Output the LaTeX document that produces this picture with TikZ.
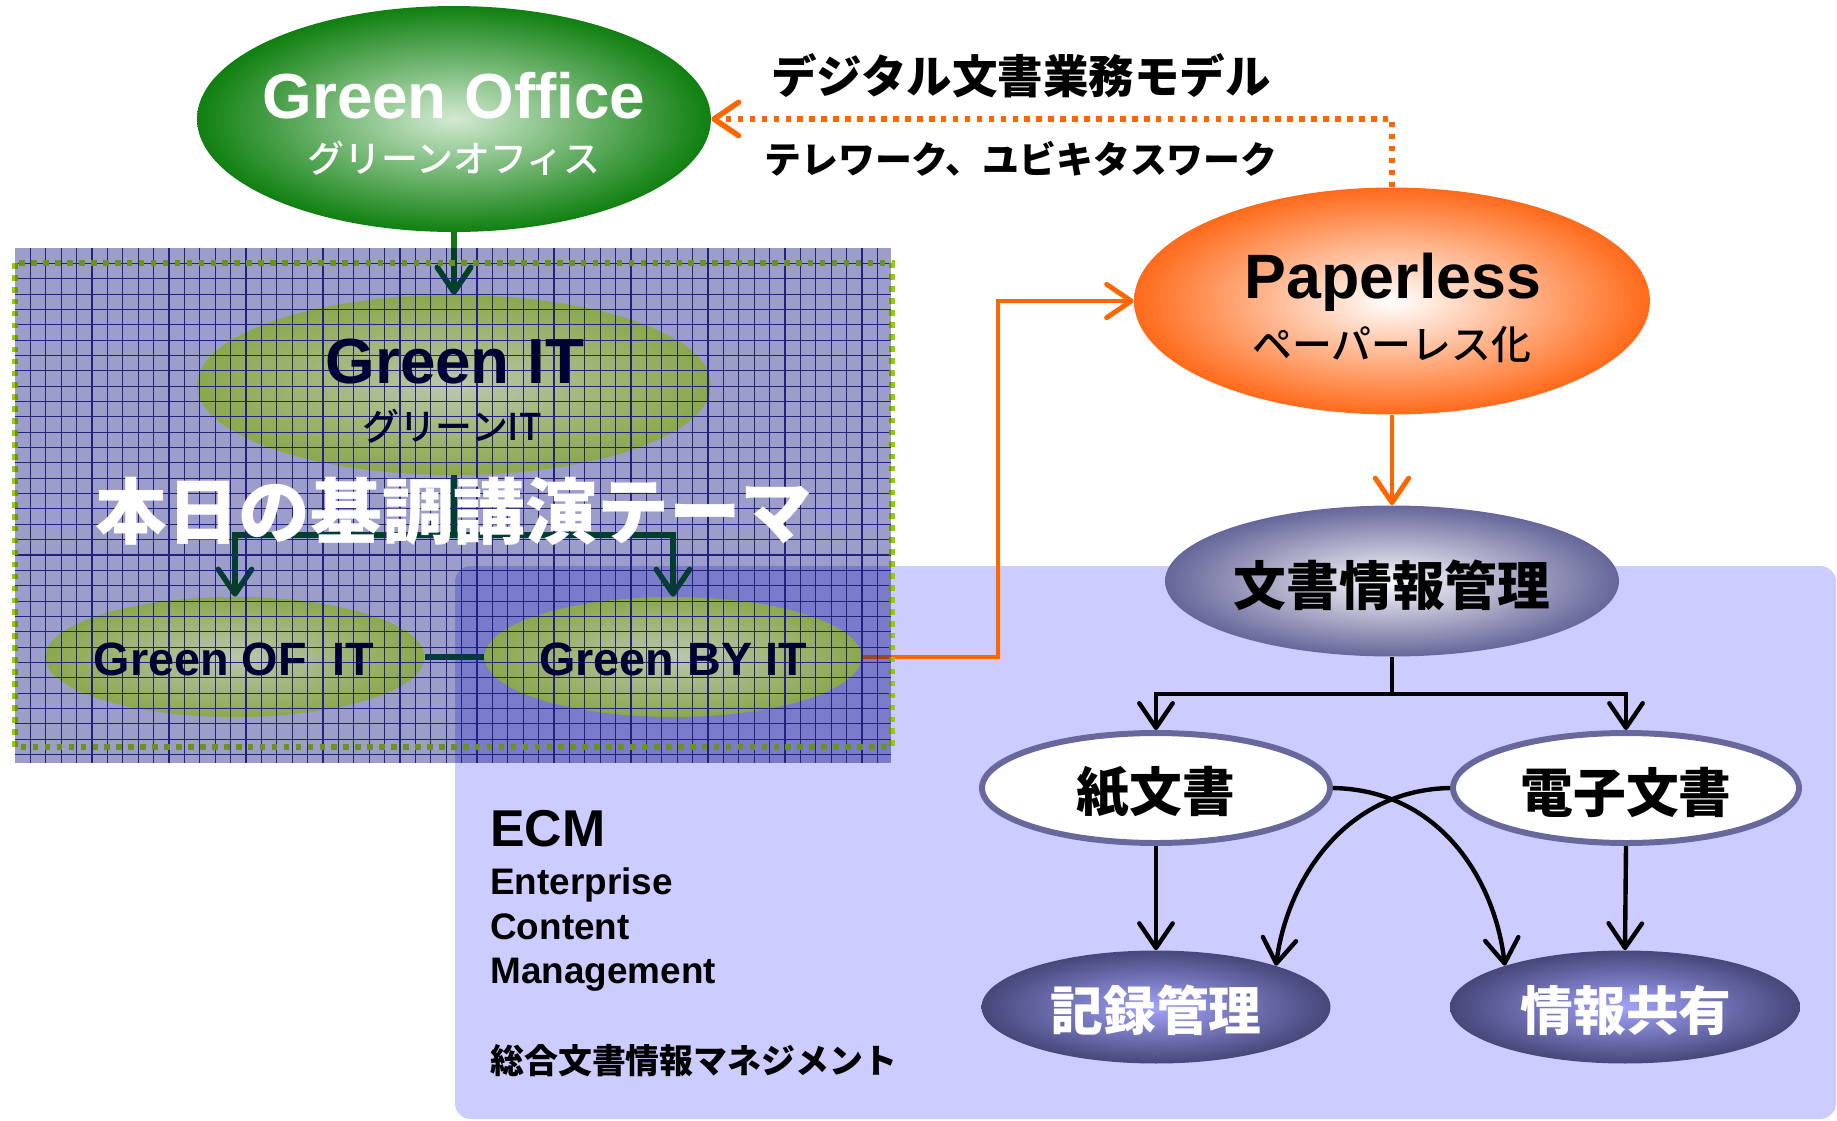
\documentclass[tikz,border=0pt]{standalone}
\usepackage{fontspec}
\setmainfont{Liberation Sans}
\newfontfamily\jp{Noto Sans CJK JP}
\newfontfamily\jpm{Noto Sans CJK JP Medium}
\usetikzlibrary{shapes.geometric,arrows.meta}
\definecolor{goIn}{HTML}{D2EAD2}
\definecolor{goOut}{HTML}{108010}
\definecolor{giIn}{HTML}{BCC6AE}
\definecolor{giOut}{HTML}{8BA84C}
\definecolor{plIn}{HTML}{FFFFFF}
\definecolor{plOut}{HTML}{FF6A1A}
\definecolor{bjIn}{HTML}{FAFAFC}
\definecolor{bjOut}{HTML}{66669A}
\definecolor{kiIn}{HTML}{A2A2FA}
\definecolor{kiOut}{HTML}{47477A}
\definecolor{kamiBorder}{HTML}{68689C}
\definecolor{navyText}{HTML}{000033}
\definecolor{orangeL}{HTML}{FF6600}
\definecolor{orangeDim}{HTML}{A0442A}
\definecolor{darkG}{HTML}{00402A}
\definecolor{midG}{HTML}{117711}
\definecolor{ecmBg}{HTML}{CCCCFF}
\definecolor{gridBg}{HTML}{9D9DC9}
\definecolor{gridOv}{HTML}{7B7BCB}
\definecolor{gridLn}{HTML}{23237E}
\definecolor{dotBright}{HTML}{99CC00}
\definecolor{dotDim}{HTML}{6A9026}
\begin{document}
\begin{tikzpicture}[x=0.02cm,y=-0.02cm,
  ell/.style={ellipse, inner sep=0pt},
  tipA/.style={-{Straight Barb[length=14pt,width=19pt,round]}},
  gconn/.style={line width=3.1pt, darkG, tipA},
  oconn/.style={line width=2.8pt, orangeL, tipA},
  bconn/.style={line width=2.5pt, black, tipA},
  dotline/.style={line width=3.1pt, dash pattern=on 3.2pt off 3.6pt},
  gridl/.style={line width=0.6pt, gridLn},
  lat/.style={anchor=base, inner sep=0pt},
  jpt/.style={anchor=center, inner sep=0pt}]
\useasboundingbox (0,0) rectangle (1837,1120);
\fill[white] (0,0) rectangle (1837,1120);
% ECM panel
\fill[ecmBg, rounded corners=9pt] (455,566) rectangle (1836,1119);
% grid panel
\fill[gridBg] (15,248) rectangle (891,763);
\begin{scope}
  \clip[rounded corners=9pt] (455,566) rectangle (1836,1119);
  \fill[gridOv] (15,248) rectangle (891,763);
\end{scope}

% ellipses
\node[ell, minimum width=10.28cm, minimum height=4.52cm, inner color=goIn, outer color=goOut] (go) at (454,119) {};
\node[ell, minimum width=10.28cm, minimum height=3.6cm, inner color=giIn, outer color=giOut] (git) at (454,385) {};
\node[ell, minimum width=7.58cm, minimum height=2.4cm, inner color=giIn, outer color=giOut] (gof) at (235,657) {};
\node[ell, minimum width=7.54cm, minimum height=2.4cm, inner color=giIn, outer color=giOut] (gby) at (673,657) {};
\node[ell, minimum width=10.32cm, minimum height=4.54cm, inner color=plIn, outer color=plOut] (pl) at (1392,301) {};
\node[ell, minimum width=9.08cm, minimum height=3.02cm, inner color=bjIn, outer color=bjOut] (bj) at (1392,581) {};
\node[ell, minimum width=6.96cm, minimum height=2.2cm, fill=white, draw=kamiBorder, line width=3.4pt] (kami) at (1156,788) {};
\node[ell, minimum width=6.92cm, minimum height=2.2cm, fill=white, draw=kamiBorder, line width=3.4pt] (denshi) at (1626,788) {};
\node[ell, minimum width=6.98cm, minimum height=2.26cm, inner color=kiIn, outer color=kiOut] (kiroku) at (1156,1007) {};
\node[ell, minimum width=7.0cm, minimum height=2.26cm, inner color=kiIn, outer color=kiOut] (joho) at (1625,1007) {};

% coordinates
\coordinate (gsplit) at (454,535);
\coordinate (obend) at (998,301);
\coordinate (bsplit) at (1392,694);

% green connectors
\draw[gconn, midG] (go.south) -- (git.north);
\begin{scope}
  \clip (15,248) rectangle (891,763);
  \draw[gconn] (go.south) -- (git.north);
\end{scope}
\draw[gconn] (git.south) -- (gsplit) -| (gof.north);
\draw[gconn] (gsplit) -| (gby.north);
\draw[line width=3.4pt, darkG] (gof.east) -- (gby.west);

% orange connectors
\draw[oconn] (gby.east) -| (obend) -- (pl.west);
\begin{scope}
  \clip (15,248) rectangle (891,763);
  \draw[line width=2.8pt, orangeDim] (gby.east) -| (obend);
\end{scope}
\draw[oconn, dotline] (pl.north) -- (pl.north |- go.east) -- (go.east);
\draw[oconn] (pl.south) -- (bj.north);

% black connectors
\draw[bconn] (bj.south) -- (bsplit) -| (kami.north);
\draw[bconn] (bsplit) -| (denshi.north);
\draw[bconn] (kami.south) -- (kiroku.north);
\draw[bconn] (denshi.south) -- (joho.north);
\draw[bconn] (kami.east) .. controls (1440,790) and (1495,880) .. (joho.161);
\draw[bconn] (denshi.west) .. controls (1345,790) and (1287,880) .. (kiroku.19);

% grid lines
\foreach \i in {1,...,56} \draw[gridl] ({15+15.4*\i},248) -- ({15+15.4*\i},763);
\foreach \j in {1,...,33} \draw[gridl] (15,{248+15.35*\j}) -- (891,{248+15.35*\j});

% dotted border
\draw[dotline, dotBright] (15,263) rectangle (892,747);
\begin{scope}
  \clip (15,248) rectangle (891,763);
  \draw[dotline, dotDim] (15,263) rectangle (892,747);
\end{scope}

% texts
\node[lat, white, font=\fontsize{36.3}{40}\selectfont\bfseries] (goA) at (454,118) {Green Office};
\node[jpt, white, font=\fontsize{21}{24}\selectfont\jpm] (goB) at (454,158) {グリーンオフィス};
\node[jpt, font=\fontsize{25.9}{28}\selectfont\jp\bfseries] (lblA) at (1021,76) {デジタル文書業務モデル};
\node[jpt, font=\fontsize{21}{24}\selectfont\jp\bfseries] (lblB) at (1021,159) {テレワーク、ユビキタスワーク};
\node[lat, font=\fontsize{35.7}{40}\selectfont\bfseries] (plA) at (1393,298) {Paperless};
\node[jpt, font=\fontsize{22.7}{26}\selectfont\jpm] (plB) at (1392,345) {ペーパーレス化};
\node[jpt, font=\fontsize{30}{34}\selectfont\jp\bfseries] (bjA) at (1392,585) {文書情報管理};
\node[lat, navyText, font=\fontsize{36.3}{40}\selectfont\bfseries] (gitA) at (455,383) {Green IT};
\node[jpt, navyText, font=\fontsize{21}{24}\selectfont\jpm] (gitB) at (452,426) {グリーンIT};
\node[lat, navyText, font=\fontsize{26.6}{30}\selectfont\bfseries] (gofA) at (234,675) {Green OF~~IT};
\node[lat, navyText, font=\fontsize{26.6}{30}\selectfont\bfseries] (gbyA) at (673,675) {Green BY IT};
\node[jpt, white, font=\fontsize{40.8}{44}\selectfont\jp\bfseries] (theme) at (454,511) {本日の基調講演テーマ};
\node[lat, anchor=base west, font=\fontsize{29.5}{32}\selectfont\bfseries] (ecmA) at (490,846) {ECM};
\node[lat, anchor=base west, font=\fontsize{21}{24}\selectfont\bfseries] (ecmB) at (490,894) {Enterprise};
\node[lat, anchor=base west, font=\fontsize{21}{24}\selectfont\bfseries] (ecmC) at (490,939) {Content};
\node[lat, anchor=base west, font=\fontsize{21}{24}\selectfont\bfseries] (ecmD) at (490,983) {Management};
\node[jpt, anchor=west, font=\fontsize{19.3}{22}\selectfont\jp\bfseries] (ecmE) at (490,1061) {総合文書情報マネジメント};
\node[jpt, font=\fontsize{30}{34}\selectfont\jp\bfseries] (kamiT) at (1156,792) {紙文書};
\node[jpt, font=\fontsize{30}{34}\selectfont\jp\bfseries] (denshiT) at (1626,792) {電子文書};
\node[jpt, white, font=\fontsize{30}{34}\selectfont\jp\bfseries] (kirokuT) at (1156,1010) {記録管理};
\node[jpt, white, font=\fontsize{30}{34}\selectfont\jp\bfseries] (johoT) at (1626,1010) {情報共有};
\end{tikzpicture}
\end{document}
